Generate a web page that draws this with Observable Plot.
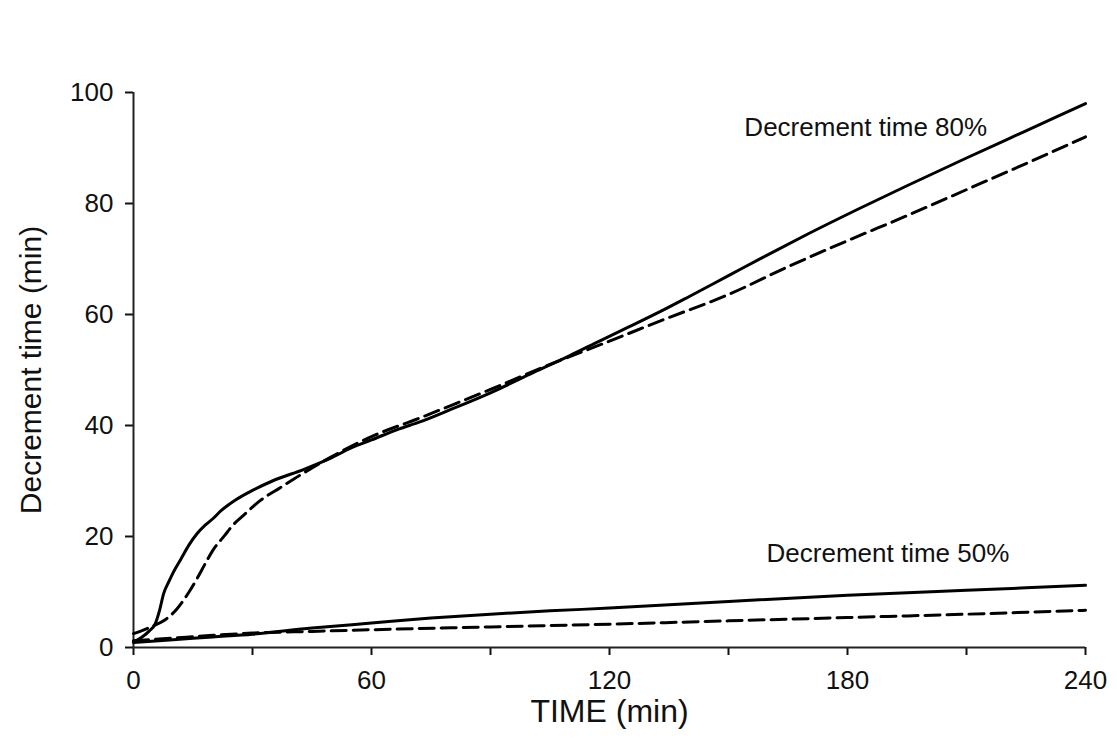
<!DOCTYPE html>
<html>
<head>
<meta charset="utf-8">
<script src="https://cdn.jsdelivr.net/npm/d3@7"></script>
<script src="https://cdn.jsdelivr.net/npm/@observablehq/plot@0.6"></script>
<style>
  html, body { margin: 0; padding: 0; background: #ffffff; }
  #chart { width: 1117px; height: 752px; }
</style>
</head>
<body>
<div id="chart"></div>
<script>
// Decrement time 80% — solid series
const t80Solid = [0, 2, 4, 5.5, 6.5, 7.6, 9, 10, 12, 14, 16, 18, 20, 22, 26, 30, 35, 43, 50, 55, 60, 67, 72, 80, 90, 101, 110, 118, 125, 133, 140, 150, 160, 170, 183, 195, 210, 225, 240];
const v80Solid = [1, 1.8, 3, 4.3, 6.5, 9.7, 12, 13.5, 16, 18.5, 20.5, 22, 23.2, 24.6, 26.7, 28.3, 30, 32.1, 34.2, 36, 37.4, 39.4, 40.6, 42.9, 45.9, 49.6, 52.6, 55.4, 57.8, 60.6, 63.2, 67, 70.8, 74.5, 79.1, 83.2, 88.2, 93.1, 98];
// Decrement time 80% — dashed series
const t80Dash = [0, 2, 5, 8, 11, 14, 16, 18, 20, 23, 25, 28, 32, 37, 43, 50, 60, 72, 80, 90, 105, 120, 133, 150, 165, 180, 195, 210, 225, 240];
const v80Dash = [2.5, 3, 3.9, 5, 7, 10, 12.4, 15, 17.5, 20.2, 22, 24, 26.5, 28.8, 31.5, 34.4, 38, 41.3, 43.6, 46.5, 51, 55.2, 58.9, 63.6, 68.6, 73.3, 77.8, 82.5, 87.2, 92];
// Decrement time 50% — solid series
const t50Solid = [0, 10, 20, 30, 45, 60, 75, 90, 105, 120, 150, 180, 210, 240];
const v50Solid = [0.9, 1.4, 1.9, 2.4, 3.5, 4.4, 5.3, 6.0, 6.6, 7.1, 8.3, 9.4, 10.3, 11.2];
// Decrement time 50% — dashed series
const t50Dash = [0, 10, 20, 30, 45, 60, 90, 120, 150, 180, 210, 240];
const v50Dash = [1.2, 1.7, 2.2, 2.6, 2.9, 3.2, 3.7, 4.2, 4.8, 5.4, 6.0, 6.7];

// Axis ticks and labels
const xTicks = [0, 30, 60, 90, 120, 150, 180, 210, 240];
const xLabelled = [0, 60, 120, 180, 240];
const yTicks = [0, 20, 40, 60, 80, 100];
const seriesLabels = ["Decrement time 80%", "Decrement time 50%"];
const labelX = [154, 159.6];
const labelY = [93.7, 16.9];
const xTitle = "TIME (min)";
const yTitle = "Decrement time (min)";

const zip = (ts, vs) => ts.map((t, i) => ({t, v: vs[i]}));
const s80 = zip(t80Solid, v80Solid);
const d80 = zip(t80Dash, v80Dash);
const s50 = zip(t50Solid, v50Solid);
const d50 = zip(t50Dash, v50Dash);
const labels = seriesLabels.map((text, i) => ({text, x: labelX[i], y: labelY[i]}));

const lineStyle = {x: "t", y: "v", stroke: "#000", strokeWidth: 3, curve: "monotone-x"};

const chart = Plot.plot({
  width: 1117,
  height: 752,
  marginLeft: 133,
  marginRight: 32,
  marginTop: 92,
  marginBottom: 105,
  x: {domain: [0, 240]},
  y: {domain: [0, 100]},
  style: {fontFamily: "'Liberation Sans', Arial, sans-serif", fontSize: "26px", background: "#ffffff", color: "#111"},
  marks: [
    Plot.axisX({ticks: xTicks, tickSize: 8, tickPadding: 15, strokeWidth: 2, fontSize: 26,
      tickFormat: d => xLabelled.includes(d) ? String(d) : "", label: null}),
    Plot.axisY({ticks: yTicks, tickSize: 8, tickPadding: 12, strokeWidth: 2, fontSize: 26, label: null}),
    Plot.ruleX([0], {stroke: "#222", strokeWidth: 2}),
    Plot.ruleY([0], {stroke: "#222", strokeWidth: 2}),
    Plot.line(s50, lineStyle),
    Plot.line(d50, {...lineStyle, strokeDasharray: "15,7"}),
    Plot.line(s80, lineStyle),
    Plot.line(d80, {...lineStyle, strokeDasharray: "15,7"}),
    Plot.text(labels, {x: "x", y: "y", text: "text", textAnchor: "start", fontSize: 26, fill: "#111"}),
    Plot.text([xTitle], {frameAnchor: "bottom", dy: 74, fontSize: 32, fill: "#111"}),
    Plot.text([yTitle], {frameAnchor: "left", dx: -102, dy: 0, rotate: -90, textAnchor: "middle", fontSize: 30, fill: "#111"})
  ]
});
document.getElementById("chart").appendChild(chart);
</script>
</body>
</html>
